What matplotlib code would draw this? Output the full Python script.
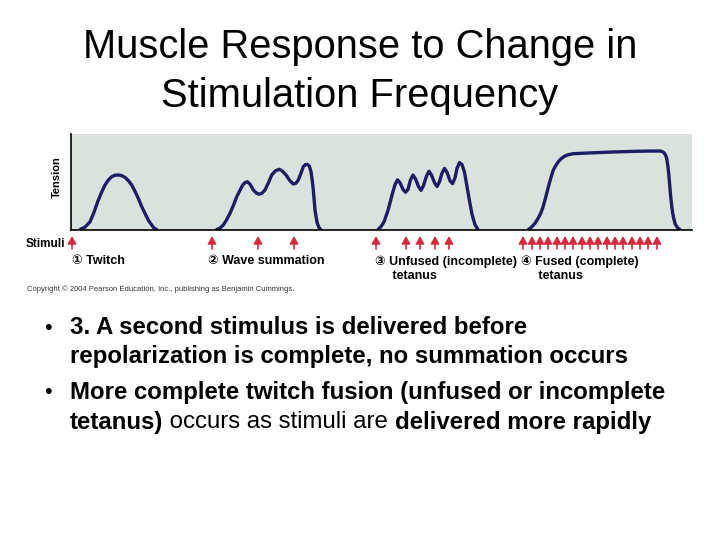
import matplotlib
matplotlib.use("Agg")
import matplotlib.pyplot as plt

# ---------------- data (time in arbitrary units, tension in % of panel height) ----------------
twitch_t = [80, 85, 90, 94, 98, 102, 105, 108.5, 111.7, 115, 118.3, 121.5, 125, 128.5, 131.7, 135, 138.3, 141.5, 145, 148.5, 151.7, 154, 156.7]
twitch_y = [0, 2.5, 8, 18, 30, 40, 46.6, 52, 55.3, 56.8, 57.1, 56.5, 54.6, 51, 46.6, 40, 32.6, 24.5, 16.8, 9.5, 4.7, 1.5, 0]

wave_t = [216.7, 220, 223.3, 226.5, 230, 233.5, 236.7, 240, 242.7, 245, 247.3, 250, 253.3, 256.5, 259.3, 262, 265, 268.5, 271.7, 275.5, 279.3, 282.5, 286, 290, 293.3, 296, 298.3, 301, 303.3, 305.5, 307.3, 309.3, 311, 312.3, 313.3, 314.2, 315, 316.2, 317.3, 319, 320.7]
wave_y = [0, 1.5, 4.7, 10, 17, 25.5, 34.3, 41, 46.6, 49, 50, 47.5, 41.4, 38, 36.9, 38, 41.4, 49, 57.1, 61.5, 63, 61, 57.1, 51, 47.6, 48.5, 51.8, 59, 65.8, 68, 68.3, 66.5, 60.5, 51, 41.4, 30.5, 20.4, 12.5, 6.5, 2, 0]

unfused_t = [378, 381, 384, 388, 392, 395, 397.5, 400, 403, 405.5, 408, 410.5, 413, 415.5, 418.5, 421, 423.5, 426.5, 429, 431.5, 434.5, 437, 439.5, 442, 444.5, 447, 450, 452.5, 455, 457, 459.5, 462, 464.5, 467, 469.5, 472, 475, 478]
unfused_y = [0, 3, 8, 20, 36, 47, 52, 49, 42, 39, 42, 52, 57, 53, 45, 41, 46, 56, 61, 57, 49, 45, 50, 59, 64, 60, 51, 48, 54, 64, 70, 68, 60, 45, 30, 16, 5, 0]

fused_t = [528.3, 531.5, 535, 538, 540.7, 543, 545, 547.2, 549.3, 551.3, 553.3, 555.8, 558.3, 561.5, 565, 569, 573.3, 588, 603.3, 620, 636.7, 648, 660, 662.2, 664, 665.5, 666.7, 667.8, 668.7, 669.7, 670.7, 671.7, 672.7, 674, 675.3, 677.5, 680]
fused_y = [0, 2.5, 6.5, 11.5, 17, 23.5, 31, 39.8, 48.4, 55.5, 62.3, 67, 71, 74.5, 77, 78.5, 79.4, 80.1, 80.8, 81.4, 81.9, 82.1, 82.2, 81.6, 80.4, 78, 74.6, 67, 58.8, 46.5, 34.3, 25, 17, 10.5, 5.4, 2, 0]

twitch_stim = [72]
wave_stim = [212, 258, 294]
unfused_stim = [376, 406, 420, 435, 449]
fused_stim = [523, 532, 540, 548, 557, 565, 573, 582, 590, 598, 607, 615, 623, 632, 640, 648, 657]

panel_labels = ["\u2460 Twitch", "\u2461 Wave summation", "\u2462 Unfused (incomplete)\n     tetanus", "\u2463 Fused (complete)\n     tetanus"]
panel_label_x = [72, 208, 375, 521]

title_lines = ["Muscle Response to Change in", "Stimulation Frequency"]

# ---------------- figure ----------------
W, H = 720, 540
fig = plt.figure(figsize=(7.2, 5.4), dpi=100)
fig.patch.set_facecolor("white")

FAM = ["Liberation Sans", "DejaVu Sans"]

def fx(px):
    return px / W

def fy(py):
    return 1 - py / H

# title
fig.text(fx(360), fy(58), title_lines[0], ha="center", va="baseline", fontsize=28.7, family=FAM, color="black")
fig.text(fx(360), fy(107), title_lines[1], ha="center", va="baseline", fontsize=28.7, family=FAM, color="black")

# panel axes
x0, x1 = 71, 692
ytop, ybase = 134, 229.5
ax = fig.add_axes([fx(x0), fy(ybase), (x1 - x0) / W, (ybase - ytop) / H])
ax.set_facecolor("#dbe2dd")
ax.set_xlim(x0, x1)
ax.set_ylim(0, 100)
ax.set_xticks([])
ax.set_yticks([])
for s in ["top", "right"]:
    ax.spines[s].set_visible(False)
ax.spines["left"].set_linewidth(1.2)
ax.spines["bottom"].set_linewidth(1.2)

curve_color = "#1d1d66"
for t, y in [(twitch_t, twitch_y), (wave_t, wave_y), (unfused_t, unfused_y), (fused_t, fused_y)]:
    ax.plot(t, y, color=curve_color, lw=2.4, solid_capstyle="round", solid_joinstyle="round")

# stimulus arrows
arrow_color = "#d42a3a"
for xs in [twitch_stim, wave_stim, unfused_stim, fused_stim]:
    for x in xs:
        ax.annotate("", xy=(x, -6.8), xytext=(x, -20.4), xycoords="data",
                    arrowprops=dict(arrowstyle="-|>,head_length=0.5,head_width=0.28",
                                    color=arrow_color, lw=1.2, shrinkA=0, shrinkB=0,
                                    mutation_scale=9),
                    annotation_clip=False)

# labels inside figure
fig.text(fx(57), fy(177), "Tension", rotation=90, ha="center", va="center", fontsize=8, fontweight="bold", family=FAM)
fig.text(fx(26), fy(244), "Stimuli", ha="left", va="center", fontsize=8.5, fontweight="bold", family=FAM)
for lab, lx in zip(panel_labels, panel_label_x):
    fig.text(fx(lx), fy(255.5), lab, ha="left", va="top", fontsize=9.0, fontweight="bold", family=FAM, linespacing=1.2)
fig.text(fx(27), fy(289), "Copyright \u00a9 2004 Pearson Education, Inc., publishing as Benjamin Cummings.",
         ha="left", va="center", fontsize=5.5, family=FAM, color="#333333")

# bullets
BFS = 17.3
bullet_lines = [
    (328, True, "3. A second stimulus is delivered before"),
    (357, False, "repolarization is complete, no summation occurs"),
    (392, True, "More complete twitch fusion (unfused or incomplete"),
]
for yy, has_bullet, txt in bullet_lines:
    if has_bullet:
        fig.text(fx(44), fy(yy), "\u2022", ha="left", va="center", fontsize=BFS * 0.9, family=FAM)
    fig.text(fx(70), fy(yy), txt, ha="left", va="center", fontsize=BFS, fontweight="bold", family=FAM)

# last line with mixed weights
parts = [("tetanus)", "bold"), (" occurs as stimuli are ", "normal"), ("delivered more rapidly", "bold")]
prev = fig.text(fx(70), fy(422), parts[0][0], ha="left", va="center", fontsize=BFS, fontweight=parts[0][1], family=FAM)
for txt, wt in parts[1:]:
    prev = plt.annotate(txt, xy=(1, 0), xycoords=prev, xytext=(0, 0), textcoords="offset points",
                        ha="left", va="bottom", fontsize=BFS, fontweight=wt, family=FAM)

fig.savefig("out.png", dpi=100, facecolor="white")
